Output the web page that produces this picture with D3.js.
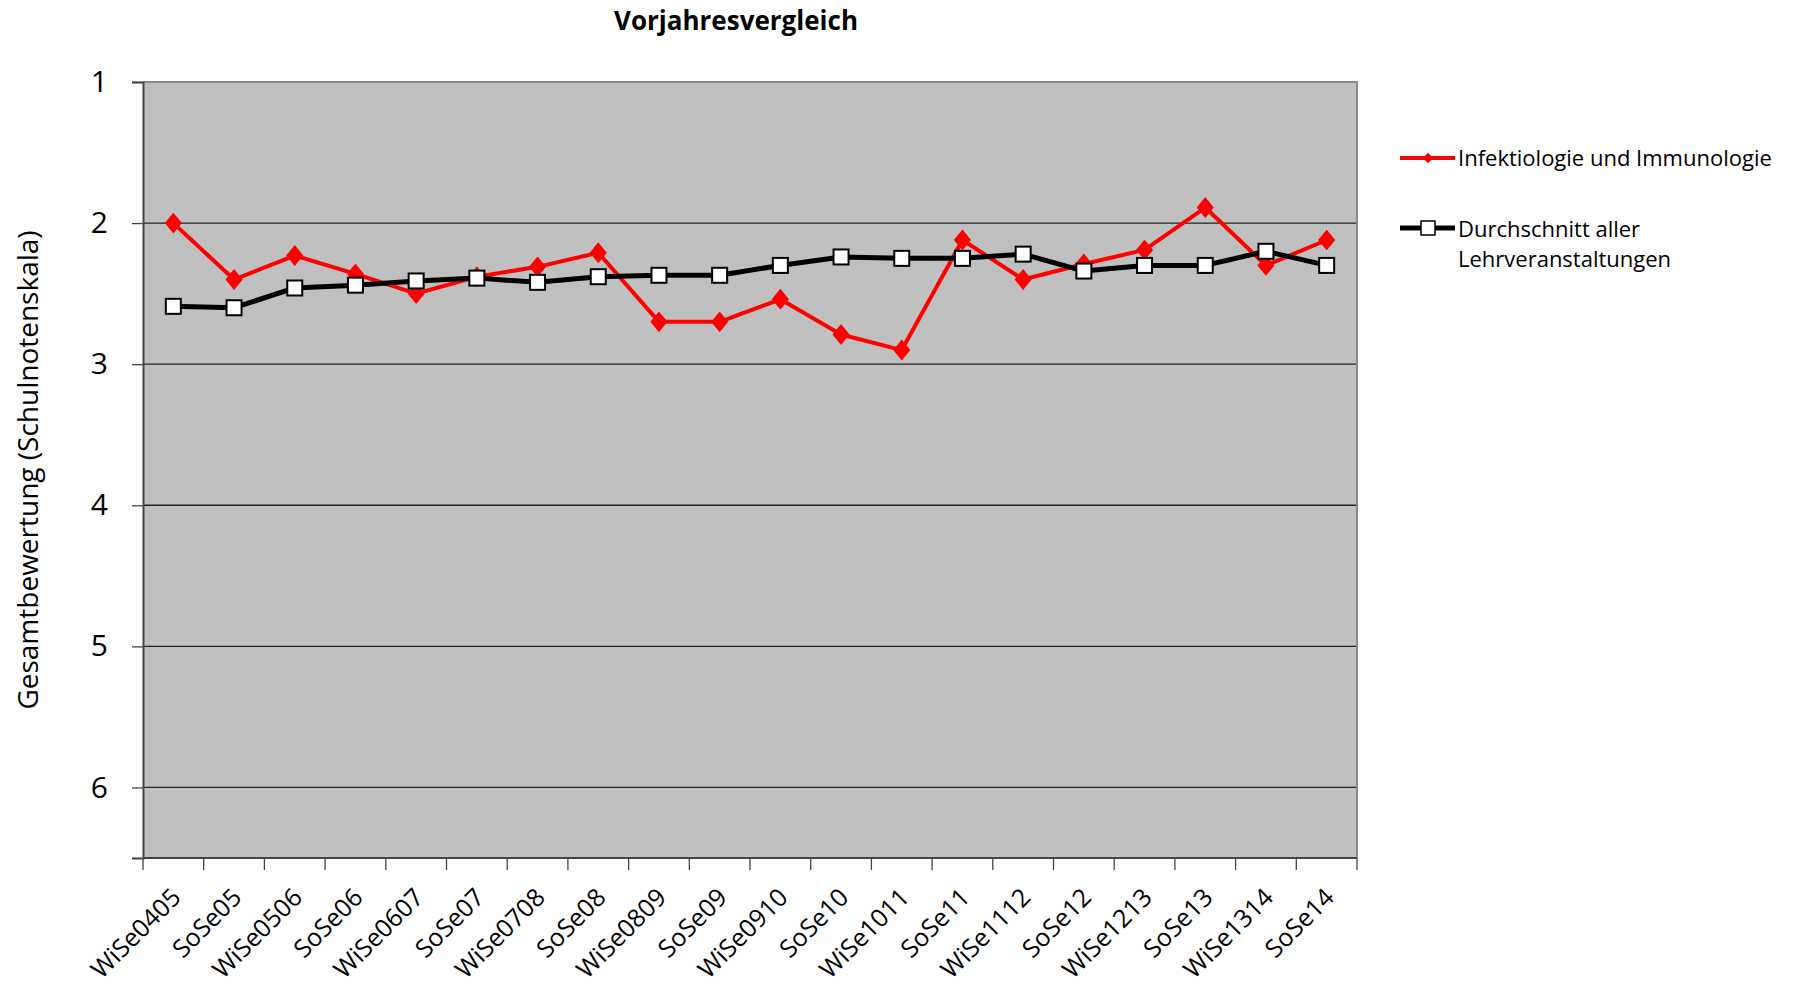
<!DOCTYPE html>
<html>
<head>
<meta charset="utf-8">
<script src="https://cdn.jsdelivr.net/npm/d3@7"></script>
<style>
    body { margin: 0; background: #fff; }
    text { font-family: "Open Sans", "DejaVu Sans", sans-serif; fill: #000; }
</style>
</head>
<body>
<div id="line-chart"></div>
<script>
var semesters = ["WiSe0405", "SoSe05", "WiSe0506", "SoSe06", "WiSe0607", "SoSe07", "WiSe0708", "SoSe08",
    "WiSe0809", "SoSe09", "WiSe0910", "SoSe10", "WiSe1011", "SoSe11", "WiSe1112", "SoSe12",
    "WiSe1213", "SoSe13", "WiSe1314", "SoSe14"];
var infektiologie = [2.00, 2.40, 2.23, 2.36, 2.50, 2.38, 2.31, 2.21, 2.70, 2.70,
    2.54, 2.79, 2.90, 2.12, 2.40, 2.29, 2.19, 1.89, 2.30, 2.12];
var durchschnitt = [2.59, 2.60, 2.46, 2.44, 2.41, 2.39, 2.42, 2.38, 2.37, 2.37,
    2.30, 2.24, 2.25, 2.25, 2.22, 2.34, 2.30, 2.30, 2.20, 2.30];
var yTicks = [1, 2, 3, 4, 5, 6];
var seriesNames = ["Infektiologie und Immunologie", "Durchschnitt aller Lehrveranstaltungen"];

const margin = { top: 82, left: 143, right: 439, bottom: 136 };
const svg = d3.select("#line-chart")
    .append("svg")
    .attr("width", 1796)
    .attr("height", 994);
const width = 1796 - margin.left - margin.right;
const height = 994 - margin.top - margin.bottom;

var xScale = d3.scaleBand().domain(semesters).range([0, width]);
var yScale = d3.scaleLinear().domain([1, 6.5]).range([0, height]);

var canvas = svg.append("g")
    .attr("transform", `translate(${margin.left},${margin.top})`);

// plot area
canvas.append("rect")
    .attr("width", width)
    .attr("height", height)
    .attr("fill", "#c0c0c0");

// gridlines
canvas.append("g")
    .selectAll("line")
    .data(yTicks.slice(1))
    .join("line")
    .attr("x1", 0)
    .attr("x2", width)
    .attr("y1", function (d) { return yScale(d); })
    .attr("y2", function (d) { return yScale(d); })
    .attr("stroke", "#222")
    .attr("stroke-width", 1.3);

// top and right border
canvas.append("path")
    .attr("d", `M0,0H${width}V${height}`)
    .attr("fill", "none")
    .attr("stroke", "#8a8a8a")
    .attr("stroke-width", 2);

// y axis
var yAxis = canvas.append("g")
    .call(d3.axisLeft(yScale).tickValues(yTicks).tickSize(11).tickPadding(24).tickFormat(d3.format("d")));
yAxis.select(".domain").attr("stroke", "#444").attr("stroke-width", 2);
yAxis.selectAll(".tick line").attr("stroke", "#444").attr("stroke-width", 1.3);
yAxis.selectAll("text")
    .style("font-size", "30px")
    .attr("fill", "#000");

// x axis: labels centered on the band, ticks on the band edges
var xAxis = canvas.append("g")
    .attr("transform", `translate(0,${height})`)
    .call(d3.axisBottom(xScale).tickSize(0).tickPadding(0));
xAxis.select(".domain").remove();
xAxis.selectAll("text")
    .style("font-size", "25px")
    .attr("text-anchor", "end")
    .attr("fill", "#000")
    .attr("dy", 0)
    .attr("transform", "translate(9,41) rotate(-45)");

canvas.append("g")
    .attr("transform", `translate(0,${height})`)
    .selectAll("line")
    .data(d3.range(semesters.length + 1))
    .join("line")
    .attr("x1", function (i) { return i * xScale.bandwidth(); })
    .attr("x2", function (i) { return i * xScale.bandwidth(); })
    .attr("y1", 0)
    .attr("y2", 12)
    .attr("stroke", "#444")
    .attr("stroke-width", 1.3);
canvas.append("line")
    .attr("x1", 0)
    .attr("x2", width)
    .attr("y1", height)
    .attr("y2", height)
    .attr("stroke", "#444")
    .attr("stroke-width", 2);

// lines
function xPos(i) {
    return xScale(semesters[i]) + xScale.bandwidth() / 2;
}
var line = d3.line()
    .x(function (d, i) { return xPos(i); })
    .y(function (d) { return yScale(d); });

canvas.append("path")
    .datum(infektiologie)
    .attr("fill", "none")
    .attr("stroke", "#ff0000")
    .attr("stroke-width", 4)
    .attr("stroke-linejoin", "round")
    .attr("d", line);

canvas.append("path")
    .datum(durchschnitt)
    .attr("fill", "none")
    .attr("stroke", "#000")
    .attr("stroke-width", 5)
    .attr("stroke-linejoin", "round")
    .attr("d", line);

var diamond = d3.symbol().type(d3.symbolDiamond2).size(230);

canvas.append("g")
    .selectAll("path")
    .data(infektiologie)
    .join("path")
    .attr("d", diamond)
    .attr("transform", function (d, i) { return `translate(${xPos(i)},${yScale(d)}) scale(0.9,1.1)`; })
    .attr("fill", "#ff0000");

canvas.append("g")
    .selectAll("rect")
    .data(durchschnitt)
    .join("rect")
    .attr("x", function (d, i) { return xPos(i) - 7.5; })
    .attr("y", function (d) { return yScale(d) - 7.5; })
    .attr("width", 15)
    .attr("height", 15)
    .attr("fill", "#fff")
    .attr("stroke", "#000")
    .attr("stroke-width", 2);

// title
svg.append("text")
    .attr("x", 736)
    .attr("y", 30)
    .attr("text-anchor", "middle")
    .style("font-size", "26px")
    .style("font-weight", "bold")
    .text("Vorjahresvergleich");

// y axis title
svg.append("text")
    .attr("transform", "translate(38,470) rotate(-90)")
    .attr("text-anchor", "middle")
    .style("font-size", "28px")
    .text("Gesamtbewertung (Schulnotenskala)");

// legend
var legend = svg.append("g").attr("transform", "translate(1400,0)");
legend.append("line")
    .attr("x1", 0).attr("x2", 55).attr("y1", 158).attr("y2", 158)
    .attr("stroke", "#ff0000").attr("stroke-width", 4);
legend.append("path")
    .attr("d", d3.symbol().type(d3.symbolDiamond2).size(70))
    .attr("transform", "translate(28,158)")
    .attr("fill", "#ff0000");
legend.append("text")
    .attr("x", 58).attr("y", 166)
    .style("font-size", "22px")
    .text(seriesNames[0]);

legend.append("line")
    .attr("x1", 0).attr("x2", 55).attr("y1", 228).attr("y2", 228)
    .attr("stroke", "#000").attr("stroke-width", 5);
legend.append("rect")
    .attr("x", 21).attr("y", 221).attr("width", 14).attr("height", 14)
    .attr("fill", "#fff").attr("stroke", "#000").attr("stroke-width", 1.5);
legend.append("text")
    .attr("x", 58).attr("y", 237)
    .style("font-size", "22px")
    .text("Durchschnitt aller");
legend.append("text")
    .attr("x", 58).attr("y", 267)
    .style("font-size", "22px")
    .text("Lehrveranstaltungen");
</script>
</body>
</html>
